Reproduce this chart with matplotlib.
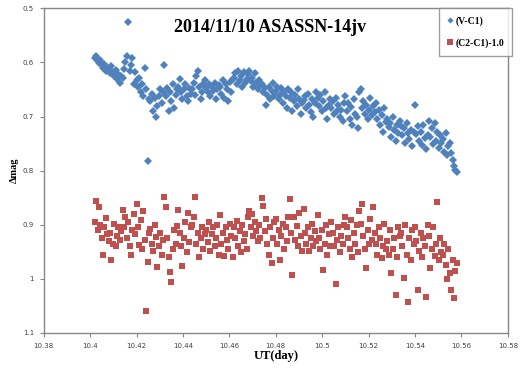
import numpy as np
import matplotlib
matplotlib.use('Agg')
from matplotlib import pyplot as plt
from matplotlib.ticker import FuncFormatter

# observation times (UT day), shared by both series
ut = [
    10.4020, 10.4026, 10.4032, 10.4038, 10.4044, 10.4050, 10.4056, 10.4062, 10.4068, 10.4074,
    10.4080, 10.4086, 10.4092, 10.4098, 10.4104, 10.4110, 10.4116, 10.4122, 10.4128, 10.4134,
    10.4140, 10.4146, 10.4152, 10.4158, 10.4164, 10.4170, 10.4176, 10.4182, 10.4188, 10.4194,
    10.4200, 10.4206, 10.4212, 10.4218, 10.4224, 10.4230, 10.4236, 10.4242, 10.4248, 10.4254,
    10.4260, 10.4266, 10.4272, 10.4278, 10.4284, 10.4290, 10.4296, 10.4302, 10.4308, 10.4314,
    10.4320, 10.4326, 10.4332, 10.4338, 10.4344, 10.4350, 10.4356, 10.4362, 10.4368, 10.4374,
    10.4380, 10.4386, 10.4392, 10.4398, 10.4404, 10.4410, 10.4416, 10.4422, 10.4428, 10.4434,
    10.4440, 10.4446, 10.4452, 10.4458, 10.4464, 10.4470, 10.4476, 10.4482, 10.4488, 10.4494,
    10.4500, 10.4506, 10.4512, 10.4518, 10.4524, 10.4530, 10.4536, 10.4542, 10.4548, 10.4554,
    10.4560, 10.4566, 10.4572, 10.4578, 10.4584, 10.4590, 10.4596, 10.4602, 10.4608, 10.4614,
    10.4620, 10.4626, 10.4632, 10.4638, 10.4644, 10.4650, 10.4656, 10.4662, 10.4668, 10.4674,
    10.4680, 10.4686, 10.4692, 10.4698, 10.4704, 10.4710, 10.4716, 10.4722, 10.4728, 10.4734,
    10.4740, 10.4746, 10.4752, 10.4758, 10.4764, 10.4770, 10.4776, 10.4782, 10.4788, 10.4794,
    10.4800, 10.4806, 10.4812, 10.4818, 10.4824, 10.4830, 10.4836, 10.4842, 10.4848, 10.4854,
    10.4860, 10.4866, 10.4872, 10.4878, 10.4884, 10.4890, 10.4896, 10.4902, 10.4908, 10.4914,
    10.4920, 10.4926, 10.4932, 10.4938, 10.4944, 10.4950, 10.4956, 10.4962, 10.4968, 10.4974,
    10.4980, 10.4986, 10.4992, 10.4998, 10.5004, 10.5010, 10.5016, 10.5022, 10.5028, 10.5034,
    10.5040, 10.5046, 10.5052, 10.5058, 10.5064, 10.5070, 10.5076, 10.5082, 10.5088, 10.5094,
    10.5100, 10.5106, 10.5112, 10.5118, 10.5124, 10.5130, 10.5136, 10.5142, 10.5148, 10.5154,
    10.5160, 10.5166, 10.5172, 10.5178, 10.5184, 10.5190, 10.5196, 10.5202, 10.5208, 10.5214,
    10.5220, 10.5226, 10.5232, 10.5238, 10.5244, 10.5250, 10.5256, 10.5262, 10.5268, 10.5274,
    10.5280, 10.5286, 10.5292, 10.5298, 10.5304, 10.5310, 10.5316, 10.5322, 10.5328, 10.5334,
    10.5340, 10.5346, 10.5352, 10.5358, 10.5364, 10.5370, 10.5376, 10.5382, 10.5388, 10.5394,
    10.5400, 10.5406, 10.5412, 10.5418, 10.5424, 10.5430, 10.5436, 10.5442, 10.5448, 10.5454,
    10.5460, 10.5466, 10.5472, 10.5478, 10.5484, 10.5490, 10.5496, 10.5502, 10.5508, 10.5514,
    10.5520, 10.5526, 10.5532, 10.5538, 10.5544, 10.5550, 10.5556, 10.5562, 10.5568, 10.5574,
    10.5580,
]

# V-C1
v_c1 = [
    0.592, 0.588, 0.598, 0.601, 0.595, 0.605, 0.610, 0.603, 0.615, 0.608,
    0.612, 0.620, 0.606, 0.618, 0.626, 0.614, 0.630, 0.622, 0.638, 0.625,
    0.628, 0.612, 0.600, 0.588, 0.525, 0.615, 0.605, 0.592, 0.640, 0.618,
    0.632, 0.645, 0.628, 0.655, 0.640, 0.662, 0.610, 0.650, 0.782, 0.668,
    0.672, 0.658, 0.690, 0.665, 0.700, 0.680, 0.662, 0.650, 0.675, 0.655,
    0.604, 0.662, 0.648, 0.690, 0.655, 0.672, 0.640, 0.685, 0.660, 0.650,
    0.645, 0.630, 0.655, 0.668, 0.650, 0.640, 0.662, 0.672, 0.648, 0.658,
    0.650, 0.638, 0.660, 0.625, 0.615, 0.645, 0.668, 0.655, 0.640, 0.632,
    0.648, 0.655, 0.640, 0.662, 0.645, 0.652, 0.638, 0.668, 0.650, 0.642,
    0.645, 0.658, 0.632, 0.665, 0.640, 0.650, 0.672, 0.637, 0.655, 0.630,
    0.628, 0.620, 0.640, 0.615, 0.632, 0.625, 0.645, 0.618, 0.638, 0.630,
    0.622, 0.615, 0.635, 0.628, 0.645, 0.620, 0.638, 0.650, 0.632, 0.642,
    0.640, 0.655, 0.648, 0.678, 0.660, 0.645, 0.668, 0.652, 0.638, 0.662,
    0.652, 0.645, 0.668, 0.660, 0.648, 0.675, 0.655, 0.662, 0.685, 0.650,
    0.665, 0.655, 0.690, 0.672, 0.660, 0.680, 0.650, 0.668, 0.695, 0.675,
    0.670, 0.662, 0.685, 0.658, 0.678, 0.692, 0.668, 0.700, 0.675, 0.655,
    0.665, 0.680, 0.660, 0.690, 0.672, 0.655, 0.685, 0.705, 0.678, 0.668,
    0.685, 0.672, 0.695, 0.665, 0.690, 0.678, 0.700, 0.688, 0.708, 0.675,
    0.662, 0.690, 0.675, 0.705, 0.682, 0.715, 0.668, 0.695, 0.700, 0.722,
    0.655, 0.650, 0.685, 0.672, 0.695, 0.678, 0.705, 0.688, 0.665, 0.698,
    0.680, 0.692, 0.675, 0.705, 0.688, 0.715, 0.698, 0.728, 0.685, 0.710,
    0.705, 0.720, 0.712, 0.738, 0.700, 0.725, 0.745, 0.715, 0.730, 0.708,
    0.718, 0.735, 0.722, 0.748, 0.712, 0.730, 0.742, 0.725, 0.755, 0.728,
    0.678, 0.732, 0.718, 0.745, 0.728, 0.752, 0.715, 0.740, 0.760, 0.735,
    0.708, 0.738, 0.722, 0.750, 0.712, 0.745, 0.728, 0.758, 0.735, 0.748,
    0.742, 0.765, 0.730, 0.772, 0.755, 0.748, 0.768, 0.780, 0.792, 0.798,
    0.803,
]

# (C2-C1)-1.0
c2_c1 = [
    0.895, 0.856, 0.910, 0.868, 0.900, 0.925, 0.955, 0.905, 0.888, 0.918,
    0.930, 0.915, 0.965, 0.935, 0.898, 0.940, 0.920, 0.905, 0.928, 0.912,
    0.872, 0.905, 0.885, 0.925, 0.895, 0.940, 0.956, 0.910, 0.880, 0.918,
    0.862, 0.905, 0.938, 0.892, 0.945, 0.875, 0.928, 1.060, 0.968, 0.915,
    0.908, 0.935, 0.948, 0.900, 0.922, 0.978, 0.940, 0.915, 0.955, 0.928,
    0.848, 0.868, 0.925, 0.960, 0.987, 1.005, 0.945, 0.910, 0.935, 0.902,
    0.872, 0.915, 0.940, 0.976, 0.925, 0.895, 0.950, 0.878, 0.932, 0.905,
    0.900, 0.885, 0.849, 0.935, 0.915, 0.960, 0.925, 0.905, 0.945, 0.918,
    0.910, 0.932, 0.895, 0.948, 0.918, 0.905, 0.940, 0.925, 0.900, 0.955,
    0.882, 0.935, 0.915, 0.958, 0.905, 0.928, 0.945, 0.898, 0.920, 0.960,
    0.905, 0.925, 0.893, 0.940, 0.912, 0.950, 0.900, 0.930, 0.918, 0.945,
    0.885, 0.875, 0.905, 0.880, 0.920, 0.895, 0.912, 0.930, 0.900, 0.925,
    0.851, 0.866, 0.912, 0.890, 0.935, 0.955, 0.905, 0.970, 0.925, 0.895,
    0.890, 0.935, 0.910, 0.965, 0.920, 0.898, 0.945, 0.905, 0.930, 0.885,
    0.853, 0.915, 0.993, 0.885, 0.928, 0.902, 0.940, 0.878, 0.920, 0.948,
    0.870, 0.915, 0.935, 0.905, 0.948, 0.925, 0.898, 0.940, 0.912, 0.930,
    0.882, 0.925, 0.945, 0.910, 0.984, 0.935, 0.900, 0.955, 0.918, 0.940,
    0.895, 0.915, 0.940, 1.010, 0.928, 0.905, 0.950, 0.920, 0.935, 0.900,
    0.885, 0.905, 0.925, 0.945, 0.892, 0.960, 0.915, 0.935, 0.900, 0.950,
    0.875, 0.898, 0.862, 0.920, 0.945, 0.980, 0.910, 0.935, 0.890, 0.928,
    0.868, 0.915, 0.935, 0.955, 0.905, 0.925, 0.962, 0.940, 0.898, 0.945,
    0.930, 0.955, 0.910, 0.990, 0.945, 0.925, 1.030, 0.960, 0.905, 0.920,
    0.915, 0.940, 0.998, 0.900, 0.955, 1.043, 0.925, 0.965, 0.910, 0.935,
    0.905, 0.930, 1.020, 0.948, 0.915, 0.960, 0.925, 0.940, 1.034, 0.900,
    0.920, 0.980, 0.945, 0.905, 0.958, 0.935, 0.858, 0.965, 0.925, 0.950,
    0.955, 0.935, 0.975, 1.000, 0.945, 0.990, 1.020, 0.965, 1.035, 0.985,
    0.970,
]

x_ticks = [10.38, 10.40, 10.42, 10.44, 10.46, 10.48, 10.50, 10.52, 10.54, 10.56, 10.58]
y_ticks = [0.5, 0.6, 0.7, 0.8, 0.9, 1.0, 1.1]

blue = '#4F81BD'
red = '#C0504D'
frame = '#868686'

fig = plt.figure(figsize=(5.29, 3.69), dpi=100)
ax = fig.add_axes([0.0826, 0.0976, 0.8774, 0.8799])

ax.plot(ut, v_c1, 'D', color=blue, markersize=3.9, markeredgewidth=0, label='(V-C1)')
ax.plot(ut, c2_c1, 's', color=red, markersize=4.6, markeredgewidth=0, label='(C2-C1)-1.0')

ax.set_xlim(10.38, 10.58)
ax.set_ylim(1.1, 0.5)
ax.set_xticks(x_ticks)
ax.set_yticks(y_ticks)
fmt = FuncFormatter(lambda v, p: '%g' % round(v, 4))
ax.xaxis.set_major_formatter(fmt)
ax.yaxis.set_major_formatter(fmt)
ax.tick_params(direction='out', length=3, width=0.8, color=frame,
               labelsize=5, labelcolor='#404040', pad=4)

for s in ax.spines.values():
    s.set_color(frame)
    s.set_linewidth(1.0)

ax.text(0.487, 0.94, '2014/11/10 ASASSN-14jv', transform=ax.transAxes,
        ha='center', va='center', fontsize=13, fontweight='bold',
        family='Liberation Serif')

ax.set_xlabel('UT(day)', fontsize=9, fontweight='bold', family='Liberation Serif', labelpad=1)
ax.set_ylabel('Δmag', fontsize=7.5, fontweight='bold', family='Liberation Serif', labelpad=3)

leg = ax.legend(loc='upper right', bbox_to_anchor=(1.01, 1.0), frameon=True, fancybox=False,
                prop={'family': 'Liberation Serif', 'weight': 'bold', 'size': 7},
                handlelength=0.6, handletextpad=0.3, borderpad=0.8, labelspacing=1.3,
                borderaxespad=0, markerscale=0.8)
leg.get_frame().set_edgecolor(frame)
leg.get_frame().set_linewidth(1.0)

fig.savefig('out.png', dpi=100)
